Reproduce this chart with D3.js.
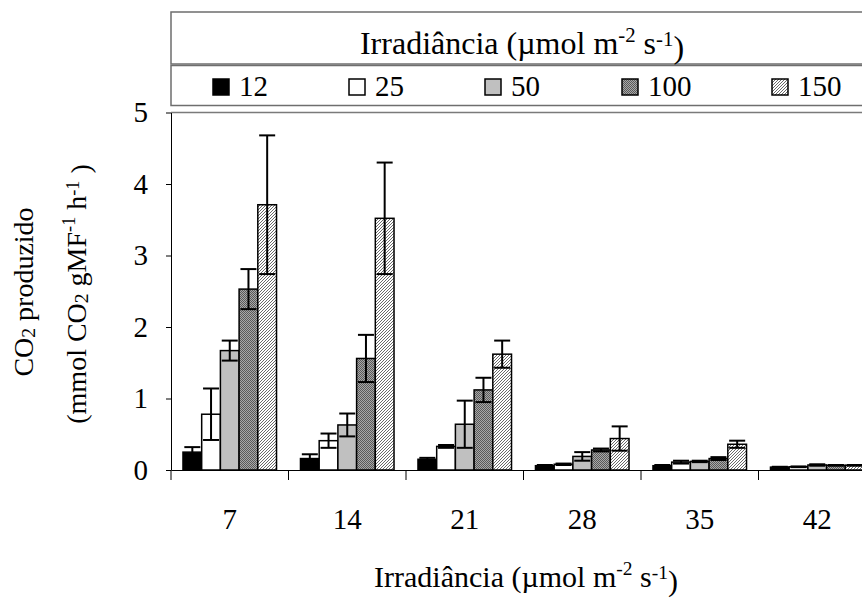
<!DOCTYPE html>
<html><head><meta charset="utf-8">
<script src="https://cdn.jsdelivr.net/npm/d3@7"></script>
<style>
body{margin:0;background:#fff}
svg{display:block}
text{font-family:"Liberation Serif","Times New Roman",serif;fill:#000}
</style>
</head><body>
<svg id="c" width="862" height="598"></svg>
<script>
// ---- data ----
const categories = ["7","14","21","28","35","42"];
const seriesNames = ["12","25","50","100","150"];
const s12  = [0.25, 0.16, 0.15, 0.06, 0.06, 0.04];
const e12  = [0.07, 0.06, 0.02, 0.01, 0.01, 0.005];
const s25  = [0.78, 0.41, 0.33, 0.08, 0.11, 0.045];
const e25  = [0.36, 0.10, 0.02, 0.01, 0.02, 0.005];
const s50  = [1.67, 0.63, 0.64, 0.19, 0.12, 0.07];
const e50  = [0.14, 0.16, 0.33, 0.06, 0.01, 0.01];
const s100 = [2.53, 1.56, 1.12, 0.28, 0.16, 0.065];
const e100 = [0.28, 0.33, 0.17, 0.02, 0.02, 0.005];
const s150 = [3.71, 3.52, 1.62, 0.44, 0.36, 0.065];
const e150 = [0.97, 0.78, 0.19, 0.17, 0.05, 0.005];
const yTicks = [0,1,2,3,4,5];

const seriesVals = [s12, s25, s50, s100, s150];
const seriesErr  = [e12, e25, e50, e100, e150];

const FONT = '"Liberation Serif","Times New Roman",serif';
const svg = d3.select("#c");
const defs = svg.append("defs");
// dotted dark gray
const p1 = defs.append("pattern").attr("id","pDot").attr("patternUnits","userSpaceOnUse").attr("width",2).attr("height",2);
p1.append("rect").attr("width",2).attr("height",2).attr("fill","#a8a8a8");
p1.append("rect").attr("x",0).attr("y",0).attr("width",1).attr("height",1).attr("fill","#5a5a5a");
p1.append("rect").attr("x",1).attr("y",1).attr("width",1).attr("height",1).attr("fill","#5a5a5a");
// diagonal hatch
const p2 = defs.append("pattern").attr("id","pHatch").attr("patternUnits","userSpaceOnUse").attr("width",3).attr("height",3);
p2.append("rect").attr("width",3).attr("height",3).attr("fill","#ffffff");
p2.append("path").attr("d","M0,3 L3,0 M-1,1 L1,-1 M2,4 L4,2").attr("stroke","#6a6a6a").attr("stroke-width",1);

const fills = ["#000000","#ffffff","#c0c0c0","url(#pDot)","url(#pHatch)"];

const x0 = d3.scaleBand().domain(categories).range([171, 876]).padding(0);
const x1 = d3.scaleBand().domain(seriesNames).range([0, x0.bandwidth()]).paddingInner(0).paddingOuter(0.64);
const y = d3.scaleLinear().domain([0,5]).range([470, 112.5]);

// plot top border
svg.append("line").attr("x1",171).attr("x2",876).attr("y1",y(5)).attr("y2",y(5))
  .attr("stroke","#7a7a7a").attr("stroke-width",1.5);

// bars
const g = svg.append("g");
categories.forEach((c, ci) => {
  seriesNames.forEach((s, si) => {
    const v = seriesVals[si][ci];
    g.append("rect")
      .attr("x", x0(c) + x1(s)).attr("width", x1.bandwidth())
      .attr("y", y(v)).attr("height", y(0) - y(v))
      .attr("fill", fills[si]).attr("stroke","#000").attr("stroke-width",1.5);
  });
});
// error bars
categories.forEach((c, ci) => {
  seriesNames.forEach((s, si) => {
    const v = seriesVals[si][ci], e = seriesErr[si][ci];
    const cx = x0(c) + x1(s) + x1.bandwidth()/2;
    const hw = 8;
    const eg = g.append("g").attr("stroke","#000").attr("stroke-width",2);
    eg.append("line").attr("x1",cx).attr("x2",cx).attr("y1",y(v+e)).attr("y2",y(Math.max(0,v-e)));
    eg.append("line").attr("x1",cx-hw).attr("x2",cx+hw).attr("y1",y(v+e)).attr("y2",y(v+e));
    eg.append("line").attr("x1",cx-hw).attr("x2",cx+hw).attr("y1",y(Math.max(0,v-e))).attr("y2",y(Math.max(0,v-e)));
  });
});

// y axis
const ya = svg.append("g").attr("transform","translate(171,0)")
  .call(d3.axisLeft(y).tickValues(yTicks).tickFormat(d3.format("d")).tickSizeInner(5).tickSizeOuter(0).tickPadding(18));
ya.attr("font-family",FONT);
ya.selectAll("text").attr("font-size",29).attr("font-family",FONT);
ya.selectAll("line,path").attr("stroke","#000").attr("stroke-width",1);

// x axis
const xa = svg.append("g").attr("transform","translate(0,470)")
  .call(d3.axisBottom(x0).tickSizeInner(0).tickSizeOuter(0).tickPadding(38));
xa.attr("font-family",FONT);
xa.selectAll("text").attr("font-size",29).attr("font-family",FONT);
xa.select("path").attr("stroke","#000").attr("stroke-width",1.2);
const bounds = categories.map(c => x0(c)).concat([x0(categories[categories.length-1]) + x0.bandwidth()]);
xa.selectAll(".bt").data(bounds).enter().append("line")
  .attr("x1",d=>d).attr("x2",d=>d).attr("y1",0).attr("y2",10).attr("stroke","#000").attr("stroke-width",1);

// x title
function unitText(sel){
  sel.append("tspan").text("Irradiância (µmol m");
  sel.append("tspan").attr("font-size","0.65em").attr("dy","-0.6em").text("-2");
  sel.append("tspan").attr("dy","0.39em").text(" s");
  sel.append("tspan").attr("font-size","0.65em").attr("dy","-0.39em").text("-1");
  sel.append("tspan").attr("dy","0.39em").text(")");
}
const xt = svg.append("text").attr("x",526).attr("y",587).attr("text-anchor","middle").attr("font-size",30);
unitText(xt);

// y title
const yt1 = svg.append("text").attr("transform","translate(33,292) rotate(-90)").attr("text-anchor","middle").attr("font-size",28);
yt1.append("tspan").text("CO");
yt1.append("tspan").attr("font-size","0.7em").attr("dy","0.1em").text("2");
yt1.append("tspan").attr("dy","-0.07em").text(" produzido");
const yt2 = svg.append("text").attr("transform","translate(86,294) rotate(-90)").attr("text-anchor","middle").attr("font-size",28);
yt2.append("tspan").text("(mmol CO");
yt2.append("tspan").attr("font-size","0.7em").attr("dy","0.1em").text("2");
yt2.append("tspan").attr("dy","-0.07em").text(" gMF");
yt2.append("tspan").attr("font-size","0.65em").attr("dy","-0.6em").text("-1");
yt2.append("tspan").attr("dy","0.39em").text("  h");
yt2.append("tspan").attr("font-size","0.65em").attr("dy","-0.39em").text("-1");
yt2.append("tspan").attr("dy","0.39em").text(" )");

// legend
svg.append("rect").attr("x",171).attr("y",12).attr("width",705).attr("height",52)
  .attr("fill","#fff").attr("stroke","#6e6e6e").attr("stroke-width",1.5);
svg.append("rect").attr("x",171).attr("y",65.5).attr("width",705).attr("height",40)
  .attr("fill","#fff").attr("stroke","#6e6e6e").attr("stroke-width",1.5);
const lt = svg.append("text").attr("x",522).attr("y",54).attr("text-anchor","middle").attr("font-size",32);
unitText(lt);
const legX = [213, 349, 485, 622, 772];
seriesNames.forEach((s, si) => {
  svg.append("rect").attr("x",legX[si]).attr("y",79).attr("width",16).attr("height",16)
    .attr("fill",fills[si]).attr("stroke","#000").attr("stroke-width",1.5);
  svg.append("text").attr("x",legX[si]+26).attr("y",96).attr("font-size",29).text(s);
});
</script>
</body></html>
